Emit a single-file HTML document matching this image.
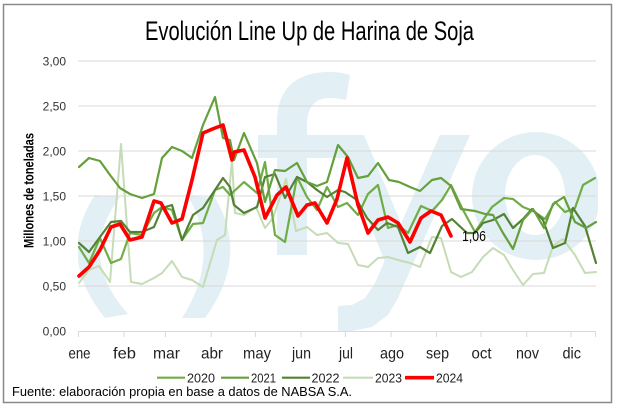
<!DOCTYPE html>
<html><head><meta charset="utf-8"><style>
html,body{margin:0;padding:0;background:#fff;}
svg{display:block;}
text{font-family:"Liberation Sans",sans-serif;}
</style></head><body>
<svg width="619" height="409" viewBox="0 0 619 409" xmlns="http://www.w3.org/2000/svg">
<rect x="0" y="0" width="619" height="409" fill="#fff"/>
<rect x="3.5" y="4.5" width="608" height="398" fill="#fff" stroke="#8a8a8a" stroke-width="1.5"/>
<defs><clipPath id="pc"><rect x="78" y="55" width="520" height="276"/></clipPath></defs>
<!-- watermark -->
<g clip-path="url(#pc)" fill="#e2eff4">
<path d="M 95 195 Q 55 256 105 318 L 128 314 Q 76 256 120 197 Z"/>
<path d="M 188 196 Q 222 256 182 318 L 205 318 Q 250 256 215 198 Z"/>
<path d="M 277 255 L 277 118 Q 280 72 330 72 Q 342 72 350 75 L 346 100 Q 338 98 330 98 Q 307 98 307 125 L 307 255 Z"/>
<rect x="258" y="135" width="87" height="23"/>
<polygon points="335,135 364,135 410,245 390,275"/>
<polygon points="440,135 470,135 398,298 388,315 372,327 352,331 338,331 338,306 352,305 365,298 375,283"/>
<path fill-rule="evenodd" d="M 472 196 A 64 64 0 1 0 600 196 A 64 64 0 1 0 472 196 Z M 505 195 A 30 40 0 1 0 565 195 A 30 40 0 1 0 505 195 Z"/>
</g>
<!-- gridlines -->
<g stroke="#d9d9d9" stroke-width="1">
<line x1="78" y1="61" x2="596" y2="61"/>
<line x1="78" y1="106" x2="596" y2="106"/>
<line x1="78" y1="151" x2="596" y2="151"/>
<line x1="78" y1="196" x2="596" y2="196"/>
<line x1="78" y1="241" x2="596" y2="241"/>
<line x1="78" y1="286" x2="596" y2="286"/>
<line x1="78" y1="331.5" x2="596" y2="331.5"/>
<line x1="78.4" y1="331" x2="78.4" y2="337"/>
<line x1="124.1" y1="331" x2="124.1" y2="337"/>
<line x1="165.4" y1="331" x2="165.4" y2="337"/>
<line x1="211.2" y1="331" x2="211.2" y2="337"/>
<line x1="255.4" y1="331" x2="255.4" y2="337"/>
<line x1="301.1" y1="331" x2="301.1" y2="337"/>
<line x1="345.4" y1="331" x2="345.4" y2="337"/>
<line x1="391.1" y1="331" x2="391.1" y2="337"/>
<line x1="436.5" y1="331" x2="436.5" y2="337"/>
<line x1="481" y1="331" x2="481" y2="337"/>
<line x1="526.8" y1="331" x2="526.8" y2="337"/>
<line x1="571" y1="331" x2="571" y2="337"/>
<line x1="595.5" y1="331" x2="595.5" y2="337"/>
</g>
<!-- series -->
<g fill="none" stroke-linejoin="round" stroke-linecap="round">
<polyline stroke="#c5dcb7" stroke-width="2" points="79,283 89,270 99,266 110,282 121,144 131,282 142,284 154,278 162,273 172,261 182,277 192,280 203,287 217,240 225,235 232,160 235,213 244,215 256,207 265,228 273,218 286,179 296,231 307,227 317,235 327,233 338,243 348,244 358,265 368,267 378,258 388,257 398,260 410,263 420,267 432,237 441,238 451,272 461,277 472,272 483,257 493,248 504,255 513,270 523,285 533,274 544,273 553,246 563,239 575,255 585,273 596,272"/>
<polyline stroke="#70ad47" stroke-width="2.2" points="79,247 89,263 100,238 111,263 121,259 130,233 142,235 154,213 162,207 172,210 182,240 193,224 203,223 215,190 223,187 230,195 244,182 257,193 265,162 275,235 285,242 297,177 307,197 317,210 327,187 338,207 347,203 358,215 368,194 378,185 388,228 398,225 408,233 421,206 432,211 442,200 451,185 462,208 475,232 492,207 504,198 513,199 523,207 533,211 545,219 555,202 565,212 575,208 583,185 595,178"/>
<polyline stroke="#548235" stroke-width="2.2" points="79,243 89,252 100,237 111,222 121,221 130,232 142,232 154,227 162,208 172,205 182,240 193,215 203,208 215,190 223,178 230,187 234,205 244,213 257,207 265,177 275,174 285,198 297,177 307,182 317,190 327,197 338,190 345,192 357,200 367,218 378,230 387,223 398,227 408,253 420,247 430,253 442,226 452,219 467,233 475,233 483,223 493,220 504,214 513,228 523,219 532,209 543,220 553,248 565,243 573,208 585,226 596,263"/>
<polyline stroke="#65a03c" stroke-width="2.2" points="79,167 89,158 100,161 110,175 120,188 130,194 142,198 154,194 162,158 172,147 182,151 192,158 203,125 215,97 223,138 230,140 234,160 244,133 257,163 265,202 275,170 285,171 297,163 307,182 317,186 327,182 338,145 348,157 358,178 368,176 378,163 389,180 399,182 410,187 420,191 432,180 441,178 451,186 461,209 475,211 485,214 493,215 503,233 513,249 523,220 533,209 544,228 553,204 564,197 575,222 586,228 596,222"/>
<polyline stroke="#ff0000" stroke-width="3.6" points="79,276 89,267 100,250 111,227 120,224 130,240 142,237 154,201 161,203 172,223 182,219 192,180 203,133 215,128 223,125 232,160 234,152 244,150 255,177 265,218 277,195 286,187 298,216 307,205 315,203 327,223 337,199 347,158 358,205 368,233 378,220 388,217 398,223 410,242 421,218 431,211 441,215 451,236"/>
</g>
<text x="462" y="241" font-size="15" textLength="24" lengthAdjust="spacingAndGlyphs" fill="#000">1,06</text>
<!-- title -->
<text x="145" y="40" font-size="27" textLength="329" lengthAdjust="spacingAndGlyphs" fill="#000">Evolución Line Up de Harina de Soja</text>
<!-- y labels -->
<g font-size="12" fill="#333" text-anchor="end">
<text x="66" y="65.5">3,00</text>
<text x="66" y="110.5">2,50</text>
<text x="66" y="155.5">2,00</text>
<text x="66" y="200.5">1,50</text>
<text x="66" y="245.5">1,00</text>
<text x="66" y="290.5">0,50</text>
<text x="66" y="335.5">0,00</text>
</g>
<text transform="translate(33.5,190.5) rotate(-90)" text-anchor="middle" font-size="14" font-weight="bold" textLength="115" lengthAdjust="spacingAndGlyphs" fill="#000">Millones de toneladas</text>
<!-- x labels -->
<g font-size="16" fill="#222">
<text x="68.5" y="358.5" textLength="22" lengthAdjust="spacingAndGlyphs">ene</text>
<text x="113" y="358.5" textLength="23" lengthAdjust="spacingAndGlyphs">feb</text>
<text x="153" y="358.5" textLength="27" lengthAdjust="spacingAndGlyphs">mar</text>
<text x="201" y="358.5" textLength="22" lengthAdjust="spacingAndGlyphs">abr</text>
<text x="243" y="358.5" textLength="28" lengthAdjust="spacingAndGlyphs">may</text>
<text x="292" y="358.5" textLength="19" lengthAdjust="spacingAndGlyphs">jun</text>
<text x="339" y="358.5" textLength="14" lengthAdjust="spacingAndGlyphs">jul</text>
<text x="380" y="358.5" textLength="24" lengthAdjust="spacingAndGlyphs">ago</text>
<text x="426" y="358.5" textLength="23" lengthAdjust="spacingAndGlyphs">sep</text>
<text x="471.5" y="358.5" textLength="20" lengthAdjust="spacingAndGlyphs">oct</text>
<text x="516" y="358.5" textLength="23" lengthAdjust="spacingAndGlyphs">nov</text>
<text x="562.5" y="358.5" textLength="18.5" lengthAdjust="spacingAndGlyphs">dic</text>
</g>
<!-- legend -->
<g stroke-linecap="butt">
<line x1="157" y1="377.7" x2="185" y2="377.7" stroke="#70ad47" stroke-width="2.2"/>
<line x1="221" y1="377.7" x2="249" y2="377.7" stroke="#65a03c" stroke-width="2.2"/>
<line x1="282" y1="377.7" x2="310" y2="377.7" stroke="#548235" stroke-width="2.2"/>
<line x1="343" y1="377.7" x2="373" y2="377.7" stroke="#c5dcb7" stroke-width="2.2"/>
<line x1="405" y1="377.7" x2="434" y2="377.7" stroke="#ff0000" stroke-width="3.6"/>
</g>
<g font-size="13" fill="#222">
<text x="187" y="382.5" textLength="28" lengthAdjust="spacingAndGlyphs">2020</text>
<text x="251" y="382.5" textLength="25" lengthAdjust="spacingAndGlyphs">2021</text>
<text x="311.5" y="382.5" textLength="28" lengthAdjust="spacingAndGlyphs">2022</text>
<text x="375" y="382.5" textLength="27" lengthAdjust="spacingAndGlyphs">2023</text>
<text x="436" y="382.5" textLength="27" lengthAdjust="spacingAndGlyphs">2024</text>
</g>
<text x="12" y="396" font-size="13" textLength="340" lengthAdjust="spacingAndGlyphs" fill="#000">Fuente: elaboración propia en base a datos de NABSA S.A.</text>
</svg>
</body></html>
